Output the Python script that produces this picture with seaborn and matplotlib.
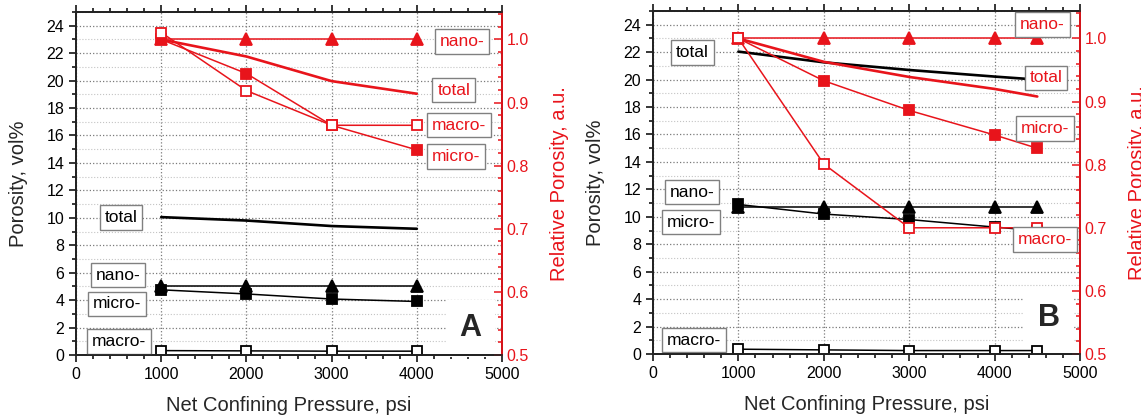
import matplotlib
matplotlib.use("Agg")
import matplotlib.pyplot as plt
import matplotlib.ticker as mticker
from matplotlib.transforms import Bbox, TransformedBbox
import seaborn as sns

# ── DATA ──────────────────────────────────────────────────────────────────────
# Panel A
PRESS_A = [1000, 2000, 3000, 4000]
A_TOTAL = [10.05, 9.8, 9.4, 9.2]
A_NANO = [5.0, 5.0, 5.0, 5.0]
A_MICRO = [4.75, 4.45, 4.08, 3.9]
A_MACRO = [0.32, 0.3, 0.28, 0.28]
A_REL_TOTAL = [1.0, 0.973, 0.934, 0.914]
A_REL_NANO = [1.0, 1.0, 1.0, 1.0]
A_REL_MICRO = [1.0, 0.946, 0.864, 0.825]
A_REL_MACRO = [1.011, 0.919, 0.864, 0.864]

# Panel B
PRESS_B = [1000, 2000, 3000, 4000, 4500]
B_TOTAL = [22.04, 21.26, 20.7, 20.22, 20.0]
B_NANO = [10.75, 10.75, 10.75, 10.75, 10.75]
B_MICRO = [10.9, 10.2, 9.8, 9.25, 9.0]
B_MACRO = [0.35, 0.3, 0.25, 0.25, 0.25]
B_REL_TOTAL = [1.0, 0.963, 0.939, 0.92, 0.908]
B_REL_NANO = [1.0, 1.0, 1.0, 1.0, 1.0]
B_REL_MICRO = [1.0, 0.933, 0.886, 0.847, 0.826]
B_REL_MACRO = [1.0, 0.801, 0.70, 0.70, 0.70]

# ── STYLE ─────────────────────────────────────────────────────────────────────
sns.set_theme(style="ticks")
plt.rcParams["font.family"] = ["Liberation Sans", "DejaVu Sans"]
RED = "#e8141b"
BLACK = "#000000"
BOX_EC = "#808080"

fig = plt.figure(figsize=(11.41, 4.17), dpi=100)


def series(ax, x, y, color, kind, lw=1.1):
    if kind == "line":
        sns.lineplot(x=x, y=y, ax=ax, color=color, linewidth=lw,
                     estimator=None, sort=False, legend=False)
        return
    marker, ms, mfc = {"tri": ("^", 8.5, color),
                       "sq": ("s", 6.5, color),
                       "open": ("s", 6.5, "white")}[kind]
    sns.lineplot(x=x, y=y, ax=ax, color=color, linewidth=lw,
                 marker=marker, markersize=ms, markerfacecolor=mfc,
                 markeredgecolor=color, markeredgewidth=1.3,
                 estimator=None, sort=False, legend=False)


def label(ax, x, y, s, color):
    ax.text(x, y, s, ha="center", va="center", fontsize=12.5, color=color,
            zorder=6,
            bbox=dict(boxstyle="square,pad=0.28", fc="white", ec=BOX_EC, lw=1))


def panel(rect, letter, press, tot, nano, micro, macro,
          rtot, rnano, rmicro, rmacro, black_lbl, red_lbl, letter_xy):
    ax = fig.add_axes(rect)
    ax.set_xlim(0, 5000)
    ax.set_ylim(0, 25)
    ax.xaxis.set_major_locator(mticker.MultipleLocator(1000))
    ax.xaxis.set_minor_locator(mticker.MultipleLocator(200))
    ax.yaxis.set_major_locator(mticker.MultipleLocator(2))
    ax.yaxis.set_minor_locator(mticker.MultipleLocator(1))
    ax.xaxis.grid(True, which="major", color="#7a7a7a", ls=":", lw=0.9)
    ax.yaxis.grid(True, which="major", color="#7a7a7a", ls=":", lw=0.9)
    ax.yaxis.grid(True, which="minor", color="#c4c4c4", ls=":", lw=0.8)
    ax.set_axisbelow(True)
    ax.tick_params(axis="both", which="both", labelsize=11.5, colors="black",
                   direction="out", width=1.1)
    ax.tick_params(axis="both", which="major", length=5)
    ax.tick_params(axis="both", which="minor", length=3)
    ax.tick_params(axis="x", which="both", top=True, labeltop=False)
    for sp in ax.spines.values():
        sp.set_color("black")
        sp.set_linewidth(1.3)

    # black series: absolute porosity
    series(ax, press, tot, BLACK, "line", lw=1.9)
    series(ax, press, nano, BLACK, "tri")
    series(ax, press, micro, BLACK, "sq")
    series(ax, press, macro, BLACK, "open")

    ax.set_xlabel("Net Confining Pressure, psi", fontsize=14.5, labelpad=10)
    ax.set_ylabel("Porosity, vol%", fontsize=14.5, labelpad=13)

    for (x, y, s) in black_lbl:
        label(ax, x, y, s, BLACK)
    # panel letter on a white patch that hides the grid but not the data
    ax.text(letter_xy[0], letter_xy[1], letter, fontsize=22, fontweight="bold",
            ha="center", va="center", zorder=1.5,
            bbox=dict(fc="white", ec="none", pad=10))

    # red series: relative porosity
    ax2 = ax.twinx()
    ax2.set_ylim(0.5, 1.0435)
    ax2.yaxis.set_major_locator(mticker.MultipleLocator(0.1))
    ax2.yaxis.set_minor_locator(mticker.MultipleLocator(0.02))
    ax2.yaxis.set_major_formatter(mticker.FormatStrFormatter("%.1f"))
    ax2.tick_params(axis="y", which="both", colors=RED, labelsize=11.5,
                    direction="in", width=1.1)
    ax2.tick_params(axis="y", which="major", length=6)
    ax2.tick_params(axis="y", which="minor", length=3)
    ax2.spines["right"].set_color(RED)
    ax2.spines["right"].set_linewidth(1.3)
    ax2.grid(False)

    series(ax2, press, rnano, RED, "tri")
    series(ax2, press, rtot, RED, "line", lw=1.9)
    series(ax2, press, rmicro, RED, "sq")
    series(ax2, press, rmacro, RED, "open")

    ax2.set_ylabel("Relative Porosity, a.u.", fontsize=14.5, color=RED,
                   labelpad=15)
    for (x, y, s) in red_lbl:
        label(ax2, x, y, s, RED)
    return ax, ax2


axA, axA2 = panel(
    [76 / 1141, 62 / 417, 426 / 1141, 343 / 417], "A", PRESS_A,
    A_TOTAL, A_NANO, A_MICRO, A_MACRO,
    A_REL_TOTAL, A_REL_NANO, A_REL_MICRO, A_REL_MACRO,
    [(527, 10.03, "total"), (493, 5.83, "nano-"),
     (476, 3.72, "micro-"), (506, 0.97, "macro-")],
    [(4530, 0.5 + 22.83 / 46, "nano-"),
     (4433, 0.5 + 19.31 / 46, "total"),
     (4500, 0.5 + 16.76 / 46, "macro-"),
     (4465, 0.5 + 14.45 / 46, "micro-")],
    (4630, 1.94))

axB, axB2 = panel(
    [653 / 1141, 63 / 417, 427 / 1141, 343 / 417], "B", PRESS_B,
    B_TOTAL, B_NANO, B_MICRO, B_MACRO,
    B_REL_TOTAL, B_REL_NANO, B_REL_MICRO, B_REL_MACRO,
    [(464, 22.0, "total"), (459, 11.8, "nano-"),
     (440, 9.62, "micro-"), (479, 1.02, "macro-")],
    [(4560, 0.5 + 24.0 / 46, "nano-"),
     (4603, 0.5 + 20.12 / 46, "total"),
     (4592, 0.5 + 16.46 / 46, "micro-"),
     (4586, 0.5 + 8.34 / 46, "macro-")],
    (4637, 2.59))

# the right label of panel A is cut off where panel B starts
lbl = axA2.yaxis.label
lbl.set_clip_box(TransformedBbox(Bbox.from_extents(0, 0, 570 / 1141, 1),
                                 fig.transFigure))
lbl.set_clip_on(True)

fig.savefig("out.png", dpi=100)
